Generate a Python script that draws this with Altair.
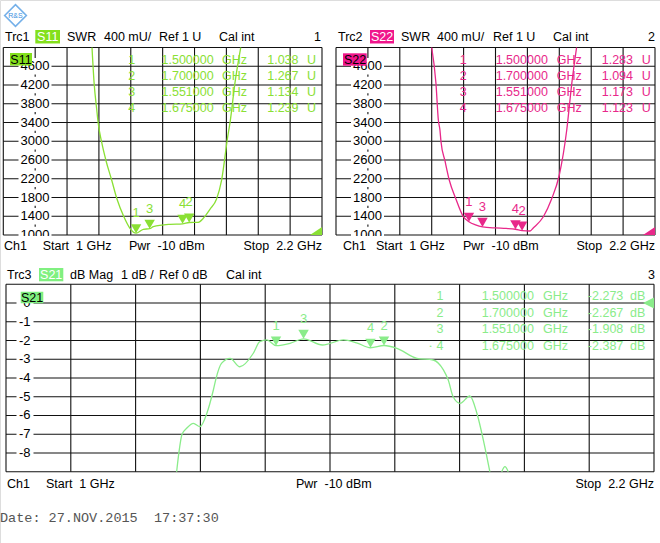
import altair as alt
import pandas as pd

# ---------------- values ----------------
freq_grid = [1.0, 1.12, 1.24, 1.36, 1.48, 1.6, 1.72, 1.84, 1.96, 2.08, 2.2]
swr_grid = [1000, 1400, 1800, 2200, 2600, 3000, 3400, 3800, 4200, 4600, 5000]
swr_ticks = [1000, 1400, 1800, 2200, 2600, 3000, 3400, 3800, 4200, 4600]
db_grid = [1, 0, -1, -2, -3, -4, -5, -6, -7, -8, -9]
db_ticks = [0, -1, -2, -3, -4, -5, -6, -7, -8]

s11_freq = [1.334, 1.342, 1.352, 1.357, 1.370, 1.387, 1.408, 1.428, 1.454, 1.477, 1.500,
            1.527, 1.551, 1.565, 1.628, 1.675, 1.700, 1.734, 1.753, 1.778, 1.803, 1.822,
            1.845, 1.854, 1.872, 1.894]
s11_swr = [5000, 4236, 3667, 3404, 2990, 2579, 2173, 1768, 1390, 1143, 1038,
           1122, 1134, 1177, 1228, 1239, 1267, 1271, 1356, 1548, 1768, 2173,
           3097, 3410, 4236, 5000]

s22_freq = [1.360, 1.376, 1.385, 1.391, 1.395, 1.410, 1.426, 1.451, 1.479, 1.500, 1.525,
            1.551, 1.600, 1.640, 1.675, 1.700, 1.730, 1.742, 1.780, 1.811, 1.840, 1.868,
            1.887, 1.905]
s22_swr = [5000, 4236, 3453, 3240, 2990, 2579, 2173, 1768, 1390, 1283, 1215,
           1173, 1150, 1140, 1123, 1094, 1085, 1150, 1390, 1768, 2280, 3240,
           4236, 5000]

s21_freq_a = [1.316, 1.320, 1.326, 1.335, 1.347, 1.359, 1.372, 1.384, 1.389, 1.399, 1.415,
              1.433, 1.458, 1.470, 1.483, 1.500, 1.526, 1.551, 1.586, 1.625, 1.649, 1.675,
              1.700, 1.724, 1.761, 1.791, 1.810, 1.819, 1.828, 1.841, 1.859, 1.872, 1.884,
              1.896]
s21_db_a = [-9.0, -8.02, -7.0, -6.67, -6.42, -6.60, -5.88, -4.64, -4.02, -3.22, -2.95,
            -3.40, -2.68, -2.06, -1.97, -2.273, -2.15, -1.908, -2.24, -1.97, -2.12, -2.387,
            -2.267, -2.42, -2.95, -3.04, -3.57, -4.11, -5.0, -5.35, -4.96, -5.88, -7.31,
            -9.0]
s21_freq_b = [1.918, 1.924, 1.930]
s21_db_b = [-9.0, -8.73, -9.0]

marker_ids = [1, 2, 3, 4]
marker_freq = [1.500, 1.700, 1.551, 1.675]
s11_marker_u = [1.038, 1.267, 1.134, 1.239]
s22_marker_u = [1.283, 1.094, 1.173, 1.123]
s21_marker_db = [-2.273, -2.267, -1.908, -2.387]

# ---------------- styling / layout ----------------
SANS = "Liberation Sans"
MONO = "Liberation Mono"
NB = "\u00a0"
GRID = "#111111"
C11 = "#8ae034"
C11_BOX = "#84e01c"
C22 = "#e8288a"
C22_BOX = "#f0168c"
C21 = "#8aec8a"
C21_BOX = "#80f080"

PANELS = {
    "tl": dict(xr=[3.3, 322.0], yd=[1000, 5000], yr=[235.0, 47.5]),
    "tr": dict(xr=[336.0, 655.0], yd=[1000, 5000], yr=[235.0, 47.5]),
    "b": dict(xr=[6.0, 654.0], yd=[-9, 1], yr=[471.7, 284.3]),
}

one = pd.DataFrame({"k": [0]})
layers = []


def xscale(p):
    return alt.Scale(domain=[1.0, 2.2], range=PANELS[p]["xr"], nice=False, zero=False)


def yscale(p):
    return alt.Scale(domain=PANELS[p]["yd"], range=PANELS[p]["yr"], nice=False, zero=False)


def X(p, field="f"):
    return alt.X(f"{field}:Q", scale=xscale(p), axis=None)


def Y(p, field="v"):
    return alt.Y(f"{field}:Q", scale=yscale(p), axis=None)


def text(s, x, y, align="left", color="black", size=12, font=SANS):
    layers.append(
        alt.Chart(one)
        .mark_text(text=s, align=align, baseline="middle", color=color, fontSize=size, font=font)
        .encode(x=alt.value(x), y=alt.value(y))
    )


def box(x1, x2, y1, y2, color):
    layers.append(
        alt.Chart(one)
        .mark_rect(color=color)
        .encode(x=alt.value(x1), x2=alt.value(x2), y=alt.value(y1), y2=alt.value(y2))
    )


def grid(p, hvals):
    P = PANELS[p]
    layers.append(
        alt.Chart(pd.DataFrame({"g": freq_grid}))
        .mark_rule(color=GRID, strokeWidth=1.1)
        .encode(
            x=alt.X("g:Q", scale=xscale(p), axis=None),
            y=alt.YDatum(P["yd"][1], scale=yscale(p), axis=None),
            y2=alt.Y2Datum(P["yd"][0]),
        )
    )
    layers.append(
        alt.Chart(pd.DataFrame({"g": hvals}))
        .mark_rule(color=GRID, strokeWidth=1.1)
        .encode(
            y=alt.Y("g:Q", scale=yscale(p), axis=None),
            x=alt.XDatum(1.0, scale=xscale(p), axis=None),
            x2=alt.X2Datum(2.2),
        )
    )


def ticklabels(p, vals, x_right, bx1, bx2):
    df = pd.DataFrame({"g": vals, "lbl": [str(v) for v in vals]})
    layers.append(
        alt.Chart(df)
        .mark_rect(color="white", yOffset=-8.2, y2Offset=8.2)
        .encode(x=alt.value(bx1), x2=alt.value(bx2),
                y=alt.Y("g:Q", scale=yscale(p), axis=None), y2=alt.Y2("g:Q"))
    )
    layers.append(
        alt.Chart(df)
        .mark_text(align="right", baseline="middle", fontSize=13, font=SANS, color="black")
        .encode(x=alt.value(x_right), y=alt.Y("g:Q", scale=yscale(p), axis=None), text="lbl:N")
    )


def table(vals, unit, color, cols, rows_y, fmt):
    df = pd.DataFrame({
        "row": list(range(len(marker_ids))),
        "id": [str(i) for i in marker_ids],
        "fs": [f"{f:.6f}" for f in marker_freq],
        "vs": [fmt(v) for v in vals],
    })
    yrow = alt.Y("row:Q", scale=alt.Scale(domain=[0, 3], range=rows_y), axis=None)
    specs = [("id", "center", cols[0]), ("fs", "left", cols[1]), ("vs", "right", cols[3])]
    for field, al, xx in specs:
        layers.append(
            alt.Chart(df).mark_text(align=al, baseline="middle", fontSize=12.5, font=SANS, color=color)
            .encode(x=alt.value(xx), y=yrow, text=f"{field}:N")
        )
    for xx, s in ((cols[2], "GHz"), (cols[4], unit)):
        layers.append(
            alt.Chart(df).mark_text(align="left", baseline="middle", fontSize=12.5, font=SANS,
                                    color=color, text=s)
            .encode(x=alt.value(xx), y=yrow)
        )


def trace(p, freqs, vals, color, seg=None):
    df = pd.DataFrame({"f": freqs, "v": vals, "seg": seg if seg else [0] * len(freqs)})
    layers.append(
        alt.Chart(df).mark_line(color=color, strokeWidth=1.3, interpolate="monotone")
        .encode(x=X(p), y=Y(p), detail="seg:N")
    )


def markers(p, vals, color):
    df = pd.DataFrame({"f": marker_freq, "v": vals, "id": [str(i) for i in marker_ids]})
    layers.append(
        alt.Chart(df).mark_point(shape="triangle-down", filled=True, size=110, yOffset=-4.5,
                                 color=color, opacity=1)
        .encode(x=X(p), y=Y(p))
    )
    layers.append(
        alt.Chart(df).mark_text(yOffset=-20, fontSize=13, font=SANS, color=color,
                                baseline="middle")
        .encode(x=X(p), y=Y(p), text="id:N")
    )


def reftri(p, yval, color, shape, size, xo, yo):
    layers.append(
        alt.Chart(one).mark_point(shape=shape, filled=True, size=size, color=color, opacity=1,
                                  xOffset=xo, yOffset=yo)
        .encode(x=alt.XDatum(2.2, scale=xscale(p), axis=None),
                y=alt.YDatum(yval, scale=yscale(p), axis=None))
    )


# ---------------- logo ----------------
layers.append(
    alt.Chart(one).mark_point(shape="diamond", size=470, filled=False, color="#3a8fe0",
                              strokeWidth=1.6)
    .encode(x=alt.value(15.5), y=alt.value(15.5))
)
text("R&S", 15.5, 15.5, align="center", color="#3a8fe0", size=7)

# ---------------- grids ----------------
grid("tl", swr_grid)
grid("tr", swr_grid)
grid("b", db_grid)

ticklabels("tl", swr_ticks, 49.5, 18.5, 51.5)
ticklabels("tr", swr_ticks, 382.0, 351.0, 384.0)
ticklabels("b", db_ticks, 30.5, 16.5, 33.5)

# cover the lower half of the "1000" labels (cut by the footer strip)
box(15, 55, 236, 241, "white")
box(347, 388, 236, 241, "white")

# ---------------- marker tables ----------------
table(s11_marker_u, "U", C11, [131.7, 161.5, 222.0, 298.5, 307.0], [59.5, 107.5],
      lambda v: f"{v:.3f}")
table(s22_marker_u, "U", C22, [463.3, 495.7, 556.7, 633.0, 641.7], [59.5, 107.5],
      lambda v: f"{v:.3f}")
table(s21_marker_db, "dB", C21, [440.0, 481.7, 543.0, 623.3, 630.0], [296.0, 346.0],
      lambda v: f"{v:.3f}")
text("\u2022", 430.5, 346, align="center", color=C21, size=6)

# ---------------- traces ----------------
trace("tl", s11_freq, s11_swr, C11)
trace("tr", s22_freq, s22_swr, C22)
trace("b", s21_freq_a + s21_freq_b, s21_db_a + s21_db_b, C21,
      seg=[0] * len(s21_freq_a) + [1] * len(s21_freq_b))

markers("tl", [u * 1000 for u in s11_marker_u], C11)
markers("tr", [u * 1000 for u in s22_marker_u], C22)
markers("b", s21_marker_db, C21)

reftri("tl", 1000, C11, "M 1 -0.33 L 1 1 L -1 1 Z", 144, -6, -6)
reftri("tr", 1000, C22, "M 1 -0.33 L 1 1 L -1 1 Z", 144, -6, -6)
reftri("b", 0, C21, "M 1 -1 L 1 1 L -1 0 Z", 121, -5.5, 0)

# ---------------- trace name boxes inside the diagrams ----------------
box(10, 32, 53, 65.5, C11_BOX)
text("S11", 21, 59.5, align="center", size=12.5)
box(343, 366.7, 53.3, 65.7, C22_BOX)
text("S22", 355, 59.5, align="center", size=12.5)
box(20.7, 43.3, 291.7, 303.3, C21_BOX)
text("S21", 32, 297.5, align="center", size=12.5)

# ---------------- header lines ----------------
text("Trc1", 5, 37, size=12.5)
box(35.3, 60, 30, 43.5, C11_BOX)
text("S11", 47.7, 37, align="center", color="white", size=12.5)
text("SWR", 67, 37, size=12.5)
text("400 mU/", 104, 37, size=12.5)
text("Ref 1 U", 159, 37, size=12.5)
text("Cal int", 219, 37, size=12.5)
text("1", 321, 37, align="right", size=12.5)

text("Trc2", 338, 37, size=12.5)
box(370, 394, 30, 43.5, C22_BOX)
text("S22", 382, 37, align="center", color="white", size=12.5)
text("SWR", 401, 37, size=12.5)
text("400 mU/", 437, 37, size=12.5)
text("Ref 1 U", 493, 37, size=12.5)
text("Cal int", 553, 37, size=12.5)
text("2", 655, 37, align="right", size=12.5)

text("Trc3", 7, 274.5, size=12.5)
box(39, 63.3, 268, 281.3, C21_BOX)
text("S21", 51.2, 274.5, align="center", color="white", size=12.5)
text("dB Mag", 70, 274.5, size=12.5)
text("1 dB /", 121, 274.5, size=12.5)
text("Ref 0 dB", 159, 274.5, size=12.5)
text("Cal int", 226, 274.5, size=12.5)
text("3", 655, 274.5, align="right", size=12.5)

# ---------------- footer lines ----------------
for (x0, y0, xs, xp, xe) in ((4, 246, 42.7, 129, 322), (343, 246, 376, 463, 655),
                             (7, 483.5, 46, 296, 654)):
    text("Ch1", x0, y0, size=12.5)
    text("Start" + NB + " 1 GHz", xs, y0, size=12.5)
    text("Pwr" + NB + " -10 dBm", xp, y0, size=12.5)
    text("Stop" + NB + " 2.2 GHz", xe, y0, align="right", size=12.5)

text("Date: 27.NOV.2015" + NB + " 17:37:30", 0, 518, color="#555555", size=13.5, font=MONO)

chart = (
    alt.layer(*layers)
    .resolve_scale(x="independent", y="independent")
    .properties(width=660, height=543, autosize="none", padding=0)
    .configure_view(stroke=None)
    .configure(background="white")
)

chart.save("out.html", embed_options={"renderer": "svg", "actions": False})
